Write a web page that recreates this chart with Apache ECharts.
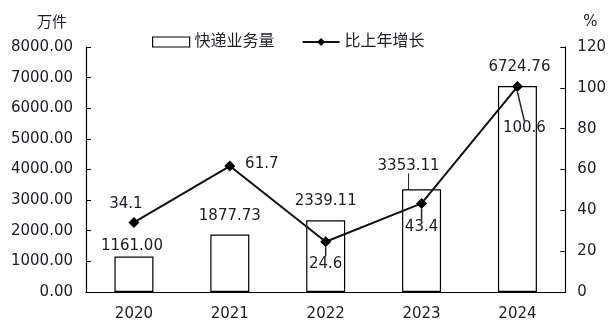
<!DOCTYPE html>
<html>
<head>
<meta charset="utf-8">
<script src="https://cdn.jsdelivr.net/npm/echarts@6/dist/echarts.min.js"></script>
<style>html,body{margin:0;padding:0;background:#fff}#c{width:609px;height:322px}</style>
</head>
<body>
<div id="c"></div>
<script>
var years = ['2020', '2021', '2022', '2023', '2024'];
var volume = [1161.00, 1877.73, 2339.11, 3353.11, 6724.76];
var growth = [34.1, 61.7, 24.6, 43.4, 100.6];
var volumeName = '快递业务量';
var growthName = '比上年增长';
var leftUnit = '万件';
var rightUnit = '%';

// label nudges (pixels) relative to default label position
var barLabelShift = [[-2, 2], [0, -6], [0, -7], [-13, -11], [2, -6]];
var barLabelGuide = [false, false, false, true, false];
var lineLabelShift = [[-8, 1], [32, 17], [0, 41], [0, 43], [7, 61]];
var lineLabelGuide = [false, false, true, true, true];

var FONT = '"DejaVu Sans", "Noto Sans CJK SC", sans-serif';
var TXT = '#1c1c24';

var chart = echarts.init(document.getElementById('c'), null, {renderer: 'canvas'});
chart.setOption({
  animation: false,
  backgroundColor: '#fff',
  textStyle: {fontFamily: FONT, color: TXT},
  legend: {
    left: 147, top: 29, itemGap: 27, itemWidth: 37, itemHeight: 10,
    textStyle: {fontSize: 16, color: TXT, fontFamily: FONT},
    data: [
      {name: volumeName, icon: 'rect', itemStyle: {color: '#fff', borderColor: '#000', borderWidth: 1.2}},
      {name: growthName}
    ]
  },
  grid: {left: 86, right: 42, top: 47, bottom: 29},
  xAxis: {
    type: 'category', data: years,
    axisLine: {lineStyle: {color: '#000', width: 1.2}},
    axisTick: {inside: true, length: 5, lineStyle: {color: '#000'}},
    axisLabel: {fontSize: 15, color: TXT, margin: 15, fontFamily: FONT}
  },
  yAxis: [{
    type: 'value', min: 0, max: 8000, interval: 1000,
    name: leftUnit, nameLocation: 'end', nameGap: 16,
    nameTextStyle: {fontSize: 15, color: TXT, align: 'right', padding: [0, 19, 0, 0], fontFamily: FONT},
    axisLine: {show: true, lineStyle: {color: '#000', width: 1.2}},
    axisTick: {show: true, inside: true, length: 5, lineStyle: {color: '#000'}},
    splitLine: {show: false},
    axisLabel: {fontSize: 15, color: TXT, margin: 13, fontFamily: FONT,
      formatter: function (v) { return v.toFixed(2); }}
  }, {
    type: 'value', min: 0, max: 120, interval: 20, position: 'right',
    name: rightUnit, nameLocation: 'end', nameGap: 17,
    nameTextStyle: {fontSize: 15, color: TXT, align: 'left', padding: [0, 0, 0, 18], fontFamily: FONT},
    axisLine: {show: true, lineStyle: {color: '#000', width: 1.2}},
    axisTick: {show: true, inside: true, length: 5, lineStyle: {color: '#000'}},
    splitLine: {show: false},
    axisLabel: {fontSize: 15, color: TXT, margin: 12, fontFamily: FONT}
  }],
  series: [{
    name: volumeName, type: 'bar', yAxisIndex: 0, barWidth: 39,
    itemStyle: {color: '#fff', borderColor: '#000', borderWidth: 1.2},
    label: {show: true, position: 'top', distance: 5, fontSize: 15, color: TXT, fontFamily: FONT,
      formatter: function (p) { return p.value.toFixed(2); }},
    labelLine: {show: true, lineStyle: {color: '#222', width: 1}},
    labelLayout: function (p) {
      var s = barLabelShift[p.dataIndex];
      return {dx: s[0], dy: s[1]};
    },
    data: volume.map(function (v, i) {
      return {value: v, labelLine: {show: barLabelGuide[i]}};
    }),
    z: 2
  }, {
    name: growthName, type: 'line', yAxisIndex: 1,
    symbol: 'diamond', symbolSize: 11,
    lineStyle: {color: '#111', width: 2},
    itemStyle: {color: '#000'},
    label: {show: true, position: 'top', distance: 6, fontSize: 15, color: TXT, fontFamily: FONT},
    labelLine: {show: true, lineStyle: {color: '#222', width: 1.5}},
    labelLayout: function (p) {
      var s = lineLabelShift[p.dataIndex];
      return {dx: s[0], dy: s[1]};
    },
    data: growth.map(function (v, i) {
      return {value: v, labelLine: {show: lineLabelGuide[i]}};
    }),
    z: 3
  }]
});
</script>
</body>
</html>
